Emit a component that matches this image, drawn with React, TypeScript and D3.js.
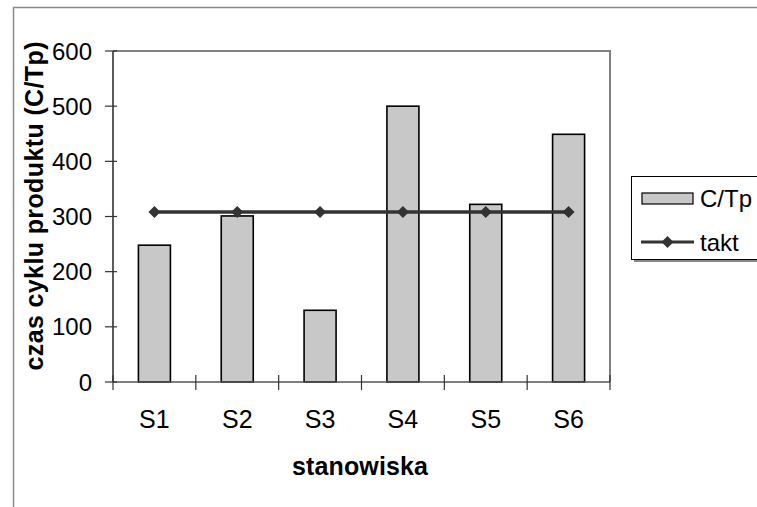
import React from "react";
import * as d3 from "d3";

const categories = ["S1", "S2", "S3", "S4", "S5", "S6"];
const cycleTimes = [248, 301, 130, 500, 322, 449];
const taktValues = [308, 308, 308, 308, 308, 308];
const yTicks = [0, 100, 200, 300, 400, 500, 600];
const seriesNames = ["C/Tp", "takt"];
const xTitle = "stanowiska";
const yTitle = "czas cyklu produktu (C/Tp)";

export default function App() {
  const W = 757, H = 507;
  const left = 113, right = 610, top = 51, bottom = 382;
  const x = d3.scaleBand<string>().domain(categories).range([left, right]).paddingInner(0).paddingOuter(0);
  const y = d3.scaleLinear().domain([0, 600]).range([bottom, top]);
  const bw = 32;
  const font = "'Liberation Sans', Arial, sans-serif";
  const linePath = d3.line<number>()
    .x((_, i) => (x(categories[i]) as number) + x.bandwidth() / 2)
    .y((d) => y(d))(taktValues) as string;
  const diamond = (cx: number, cy: number, r: number) =>
    `M${cx},${cy - r}L${cx + r},${cy}L${cx},${cy + r}L${cx - r},${cy}Z`;

  return (
    <svg width={W} height={H} style={{ position: "absolute", left: 0, top: 0, background: "#fff" }}>
      <rect x={13.5} y={7.5} width={900} height={700} fill="none" stroke="#8a8a8a" strokeWidth={1.5} />
      <path d={`M${left},${top}H${right}V${bottom}`} fill="none" stroke="#808080" strokeWidth={2} />
      {categories.map((c, i) => {
        const cx = (x(c) as number) + x.bandwidth() / 2;
        return (
          <rect key={c} x={cx - bw / 2} y={y(cycleTimes[i])} width={bw} height={y(0) - y(cycleTimes[i])}
            fill="#c8c8c8" stroke="#000" strokeWidth={1.6} />
        );
      })}
      <line x1={left} x2={right} y1={bottom} y2={bottom} stroke="#555" strokeWidth={1.6} />
      {d3.range(categories.length + 1).map((i) => {
        const xx = left + i * x.bandwidth();
        return <line key={i} x1={xx} x2={xx} y1={bottom - 7} y2={bottom + 8} stroke="#333" strokeWidth={1.2} />;
      })}
      {categories.map((c) => (
        <text key={c} x={(x(c) as number) + x.bandwidth() / 2} y={428} textAnchor="middle"
          fontFamily={font} fontSize={25} fill="#000">{c}</text>
      ))}
      <line x1={left} x2={left} y1={top} y2={bottom} stroke="#333" strokeWidth={1.6} />
      {yTicks.map((t) => (
        <g key={t}>
          <line x1={left - 8} x2={left + 4} y1={y(t)} y2={y(t)} stroke="#333" strokeWidth={1.2} />
          <text x={92} y={y(t) + 8.5} textAnchor="end" fontFamily={font} fontSize={24} fill="#000">{t}</text>
        </g>
      ))}
      <path d={linePath} fill="none" stroke="#333" strokeWidth={3.5} />
      {taktValues.map((v, i) => (
        <path key={i} d={diamond((x(categories[i]) as number) + x.bandwidth() / 2, y(v), 6)} fill="#333" />
      ))}
      <text x={360} y={475} textAnchor="middle" fontFamily={font} fontSize={25} fontWeight="bold"
        textLength={136} lengthAdjust="spacing" fill="#000">{xTitle}</text>
      <text transform={`translate(43,206) rotate(-90)`} textAnchor="middle" fontFamily={font} fontSize={25}
        fontWeight="bold" textLength={329} lengthAdjust="spacing" fill="#000">{yTitle}</text>
      <rect x={634} y={179} width={200} height={83} fill="#888" />
      <rect x={631.5} y={176.5} width={200} height={83} fill="#fff" stroke="#000" strokeWidth={1} />
      <rect x={642} y={193} width={51} height={11} fill="#c8c8c8" stroke="#000" strokeWidth={1.2} />
      <text x={700} y={207} fontFamily={font} fontSize={24} fill="#000">{seriesNames[0]}</text>
      <line x1={641} x2={694} y1={242} y2={242} stroke="#333" strokeWidth={3} />
      <path d={diamond(667.5, 242, 6)} fill="#333" />
      <text x={700} y={251} fontFamily={font} fontSize={24} fill="#000">{seriesNames[1]}</text>
    </svg>
  );
}
